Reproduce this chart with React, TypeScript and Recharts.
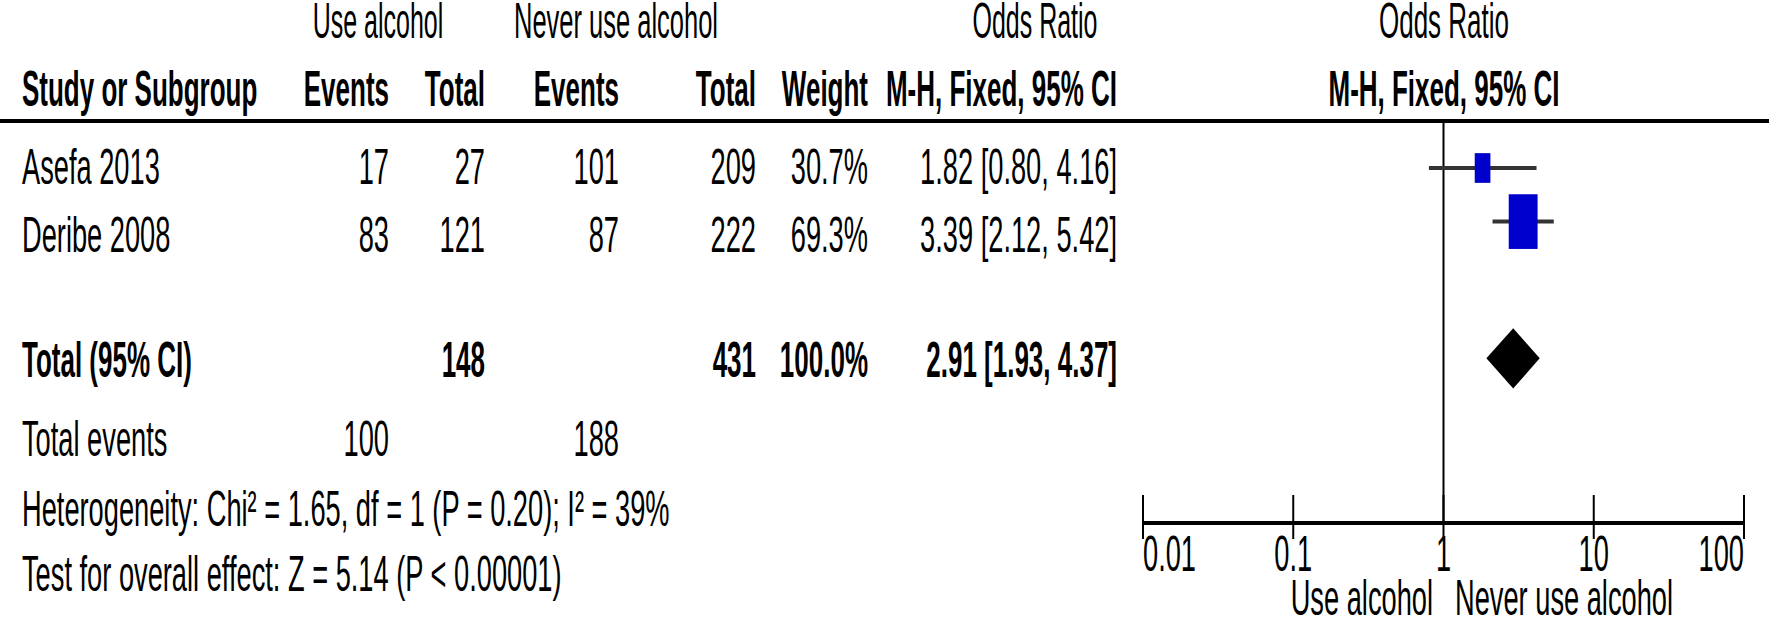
import React from "react";
import { ComposedChart, XAxis, YAxis, Scatter, ErrorBar, ReferenceLine, Customized } from "recharts";

// 研究ごとのデータ
const studies = ["Asefa 2013", "Deribe 2008"];
const useEvents = [17, 83];
const useTotals = [27, 121];
const neverEvents = [101, 87];
const neverTotals = [209, 222];
const weights = [30.7, 69.3];
const oddsRatios = [1.82, 3.39];
const ciLower = [0.8, 2.12];
const ciUpper = [4.16, 5.42];

// 統合結果
const pooledOR = 2.91;
const pooledLower = 1.93;
const pooledUpper = 4.37;
const totalUse = 148;
const totalNever = 431;
const eventsUse = 100;
const eventsNever = 188;
const heterogeneityText = "Heterogeneity: Chi² = 1.65, df = 1 (P = 0.20); I² = 39%";
const overallEffectText = "Test for overall effect: Z = 5.14 (P < 0.00001)";

const axisTicks = [0.01, 0.1, 1, 10, 100];

// レイアウト
const W = 1769;
const H = 618;
const PLOT_LEFT = 1143;
const PLOT_RIGHT = 1744;
const PLOT_TOP = 120;
const AXIS_Y = 523;
const ROW_PX = 67;
const FIRST_ROW_Y = 168;
const studySlots = [1, 1.8];
const totalSlot = 3.84;
const Y_MIN = 1 - (FIRST_ROW_Y - PLOT_TOP) / ROW_PX;
const Y_MAX = Y_MIN + (AXIS_Y - PLOT_TOP) / ROW_PX;

// 表の文字のベースライン
const studyBase = [184, 252];
const TOTAL_BASE = 377;

const FONT = "'Liberation Sans', Arial, sans-serif";
const FS = 50;
const SX_REG = 0.545;
const SX_BOLD = 0.52;

function T({ x, y, anchor = "start", bold = false, sx, children }: any) {
  const s = sx ?? (bold ? SX_BOLD : SX_REG);
  return (
    <text
      transform={`translate(${x},${y}) scale(${s},1)`}
      textAnchor={anchor}
      fontSize={FS}
      fontWeight={bold ? 700 : 400}
      fontFamily={FONT}
      fill="#000"
    >
      {children}
    </text>
  );
}

const fmtCI = (or: number, lo: number, hi: number) => `${or.toFixed(2)} [${lo.toFixed(2)}, ${hi.toFixed(2)}]`;

// 列の右端
const COL = { ue: 389, ut: 485, ne: 619, nt: 756, wt: 868, or: 1117 };

function TableLayer() {
  return (
    <g>
      <T x={378} y={38} anchor="middle" sx={0.5}>Use alcohol</T>
      <T x={616} y={38} anchor="middle" sx={0.51}>Never use alcohol</T>
      <T x={1035} y={38} anchor="middle" sx={0.5}>Odds Ratio</T>
      <T x={1444} y={38} anchor="middle" sx={0.52}>Odds Ratio</T>

      <T x={22} y={106} bold>Study or Subgroup</T>
      <T x={COL.ue} y={106} anchor="end" bold>Events</T>
      <T x={COL.ut} y={106} anchor="end" bold>Total</T>
      <T x={COL.ne} y={106} anchor="end" bold>Events</T>
      <T x={COL.nt} y={106} anchor="end" bold>Total</T>
      <T x={COL.wt} y={106} anchor="end" bold>Weight</T>
      <T x={COL.or} y={106} anchor="end" bold>M-H, Fixed, 95% CI</T>
      <T x={1444} y={106} anchor="middle" bold>M-H, Fixed, 95% CI</T>

      <line x1={0} x2={W} y1={121} y2={121} stroke="#000" strokeWidth={4} />

      {studies.map((s, i) => {
        const y = studyBase[i];
        return (
          <g key={s}>
            <T x={22} y={y}>{s}</T>
            <T x={COL.ue} y={y} anchor="end">{useEvents[i]}</T>
            <T x={COL.ut} y={y} anchor="end">{useTotals[i]}</T>
            <T x={COL.ne} y={y} anchor="end">{neverEvents[i]}</T>
            <T x={COL.nt} y={y} anchor="end">{neverTotals[i]}</T>
            <T x={COL.wt} y={y} anchor="end">{weights[i].toFixed(1)}%</T>
            <T x={COL.or} y={y} anchor="end">{fmtCI(oddsRatios[i], ciLower[i], ciUpper[i])}</T>
          </g>
        );
      })}

      <T x={22} y={TOTAL_BASE} bold>Total (95% CI)</T>
      <T x={COL.ut} y={TOTAL_BASE} anchor="end" bold>{totalUse}</T>
      <T x={COL.nt} y={TOTAL_BASE} anchor="end" bold>{totalNever}</T>
      <T x={COL.wt} y={TOTAL_BASE} anchor="end" bold>100.0%</T>
      <T x={COL.or} y={TOTAL_BASE} anchor="end" bold>{fmtCI(pooledOR, pooledLower, pooledUpper)}</T>

      <T x={22} y={456}>Total events</T>
      <T x={COL.ue} y={456} anchor="end">{eventsUse}</T>
      <T x={COL.ne} y={456} anchor="end">{eventsNever}</T>
      <T x={22} y={526}>{heterogeneityText}</T>
      <T x={22} y={591}>{overallEffectText}</T>

      <T x={1433} y={615} anchor="end">Use alcohol</T>
      <T x={1455} y={615}>Never use alcohol</T>
    </g>
  );
}

const AxisTick = (props: any) => {
  const { x, y, payload, index } = props;
  const anchor = index === 0 ? "start" : index === axisTicks.length - 1 ? "end" : "middle";
  return (
    <g>
      <line x1={x} x2={x} y1={y - 28} y2={y + 16} stroke="#000" strokeWidth={2} />
      <T x={x} y={y + 48} anchor={anchor}>{String(payload.value)}</T>
    </g>
  );
};

const BoxShape = (props: any) => {
  const { cx, cy, payload } = props;
  const s = Math.pow(payload.weight / 100, 0.75);
  const bw = 38 * s;
  const bh = 72 * s;
  return <rect x={cx - bw / 2} y={cy - bh / 2} width={bw} height={bh} fill="#0000cc" />;
};

const DiamondLine = (props: any) => (
  <polygon points={props.points.map((p: any) => `${p.x},${p.y}`).join(" ")} fill="#000" stroke="none" />
);

const EmptyShape = () => <g />;

export default function App() {
  const studyPoints = studies.map((s, i) => ({
    name: s,
    or: oddsRatios[i],
    row: studySlots[i],
    weight: weights[i],
    err: [oddsRatios[i] - ciLower[i], ciUpper[i] - oddsRatios[i]],
  }));

  const DIAMOND_HALF = 0.45;
  const diamondPoints = [
    { or: pooledLower, row: totalSlot },
    { or: pooledOR, row: totalSlot - DIAMOND_HALF },
    { or: pooledUpper, row: totalSlot },
    { or: pooledOR, row: totalSlot + DIAMOND_HALF },
  ];

  return (
    <div style={{ position: "absolute", left: 0, top: 0, width: W, height: H, background: "#fff" }}>
      <ComposedChart
        width={W}
        height={H}
        margin={{ top: PLOT_TOP, right: W - PLOT_RIGHT, bottom: 0, left: PLOT_LEFT }}
      >
        <XAxis
          type="number"
          dataKey="or"
          scale="log"
          domain={[0.01, 100]}
          ticks={axisTicks}
          interval={0}
          height={H - AXIS_Y}
          axisLine={{ stroke: "#000", strokeWidth: 4 }}
          tickLine={false}
          tickSize={0}
          tickMargin={0}
          tick={<AxisTick />}
          allowDataOverflow
        />
        <YAxis type="number" dataKey="row" domain={[Y_MIN, Y_MAX]} reversed hide allowDataOverflow />
        <ReferenceLine x={1} stroke="#000" strokeWidth={2} />
        <Scatter data={studyPoints} dataKey="row" shape={<BoxShape />} isAnimationActive={false}>
          <ErrorBar dataKey="err" direction="x" width={0} stroke="#333" strokeWidth={4} isAnimationActive={false} />
        </Scatter>
        <Scatter
          data={diamondPoints}
          dataKey="row"
          shape={<EmptyShape />}
          line={<DiamondLine />}
          isAnimationActive={false}
        />
        <Customized component={TableLayer} />
      </ComposedChart>
    </div>
  );
}
